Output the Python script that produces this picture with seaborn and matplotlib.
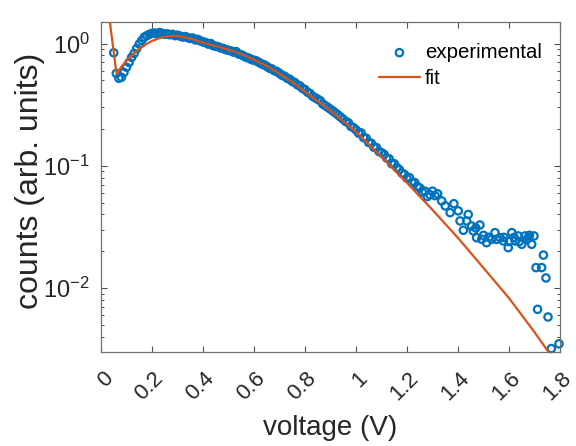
import numpy as np
import pandas as pd
import matplotlib
matplotlib.use("Agg")
import matplotlib.pyplot as plt
import matplotlib.ticker as mticker
import matplotlib.transforms as mtransforms
import seaborn as sns

# ---------------- data ----------------
voltage_exp = [
    0.05, 0.06, 0.07, 0.08, 0.09, 0.10, 0.11, 0.12, 0.13, 0.14,
    0.15, 0.16, 0.17, 0.18, 0.19, 0.20, 0.21, 0.22, 0.23, 0.24,
    0.25, 0.26, 0.27, 0.28, 0.29, 0.30, 0.31, 0.32, 0.33, 0.34,
    0.35, 0.36, 0.37, 0.38, 0.39, 0.40, 0.41, 0.42, 0.43, 0.44,
    0.45, 0.46, 0.47, 0.48, 0.49, 0.50, 0.51, 0.52, 0.53, 0.54,
    0.55, 0.56, 0.57, 0.58, 0.59, 0.60, 0.61, 0.62, 0.63, 0.64,
    0.65, 0.66, 0.67, 0.68, 0.69, 0.70, 0.71, 0.72, 0.73, 0.74,
    0.75, 0.76, 0.77, 0.78, 0.79, 0.80, 0.81, 0.82, 0.83, 0.84,
    0.85, 0.86, 0.87, 0.88, 0.89, 0.90, 0.91, 0.92, 0.93, 0.94,
    0.95, 0.96, 0.97, 0.98, 0.99, 1.00, 1.01, 1.02, 1.03, 1.04,
    1.05, 1.06, 1.07, 1.08, 1.09, 1.10, 1.11, 1.12, 1.13, 1.14,
    1.15, 1.16, 1.17, 1.18, 1.19, 1.20, 1.21, 1.22, 1.23, 1.24,
    1.25, 1.26, 1.27, 1.28, 1.29, 1.30, 1.31, 1.32, 1.336, 1.35,
    1.369, 1.384, 1.401, 1.408, 1.421, 1.434, 1.44, 1.453, 1.46, 1.47,
    1.473, 1.486, 1.493, 1.50, 1.512, 1.52, 1.532, 1.545, 1.55, 1.565,
    1.578, 1.58, 1.597, 1.60, 1.611, 1.62, 1.624, 1.636, 1.64, 1.65,
    1.663, 1.67, 1.676, 1.68, 1.689, 1.698, 1.706, 1.712, 1.728, 1.735,
    1.745, 1.753, 1.766, 1.796,
]
counts_exp = [
    0.84, 0.57, 0.52, 0.53, 0.58, 0.64, 0.70, 0.77, 0.83, 0.91,
    0.99, 1.06, 1.13, 1.16, 1.19, 1.21, 1.22, 1.20, 1.23, 1.21,
    1.19, 1.20, 1.18, 1.19, 1.16, 1.17, 1.15, 1.13, 1.14, 1.12,
    1.10, 1.11, 1.07, 1.08, 1.05, 1.03, 1.02, 0.99, 1.00, 0.96,
    0.95, 0.94, 0.92, 0.91, 0.89, 0.88, 0.87, 0.85, 0.86, 0.82,
    0.81, 0.79, 0.77, 0.76, 0.74, 0.73, 0.72, 0.70, 0.68, 0.67,
    0.65, 0.63, 0.62, 0.60, 0.59, 0.57, 0.55, 0.54, 0.52, 0.51,
    0.49, 0.48, 0.46, 0.45, 0.43, 0.42, 0.40, 0.39, 0.37, 0.36,
    0.35, 0.34, 0.32, 0.31, 0.30, 0.29, 0.28, 0.27, 0.26, 0.25,
    0.24, 0.23, 0.225, 0.21, 0.205, 0.197, 0.185, 0.186, 0.17, 0.168,
    0.155, 0.153, 0.142, 0.141, 0.131, 0.128, 0.124, 0.116, 0.114, 0.104,
    0.104, 0.097, 0.093, 0.087, 0.085, 0.079, 0.080, 0.073, 0.073, 0.068,
    0.066, 0.061, 0.062, 0.056, 0.058, 0.062, 0.057, 0.059, 0.0516, 0.047,
    0.0414, 0.049, 0.0428, 0.0354, 0.0297, 0.0354, 0.040, 0.0322, 0.0293, 0.031,
    0.0258, 0.0328, 0.0251, 0.027, 0.0235, 0.026, 0.0251, 0.0284, 0.025, 0.0258,
    0.0243, 0.026, 0.0214, 0.024, 0.0284, 0.026, 0.0243, 0.0267, 0.024, 0.0228,
    0.0267, 0.025, 0.0258, 0.027, 0.0228, 0.0267, 0.0147, 0.0067, 0.0147, 0.0186,
    0.0121, 0.0058, 0.0032, 0.0035,
]

voltage_fit = [
    0.030, 0.035, 0.040, 0.045, 0.050, 0.055, 0.061, 0.070, 0.080, 0.094,
    0.110, 0.127, 0.150, 0.175, 0.200, 0.225, 0.250, 0.275, 0.300, 0.350,
    0.400, 0.450, 0.500, 0.550, 0.600, 0.650, 0.700, 0.750, 0.800, 0.850,
    0.900, 0.950, 1.000, 1.050, 1.100, 1.150, 1.200, 1.250, 1.300, 1.350,
    1.400, 1.450, 1.500, 1.550, 1.600, 1.650, 1.700, 1.750, 1.800,
]
counts_fit = [
    2.20, 1.49, 1.23, 1.02, 0.85, 0.70, 0.565, 0.60, 0.645, 0.70,
    0.76, 0.82, 0.90, 0.98, 1.05, 1.10, 1.135, 1.15, 1.155, 1.10,
    1.019, 0.954, 0.893, 0.820, 0.739, 0.654, 0.567, 0.484, 0.404, 0.338,
    0.282, 0.2316, 0.190, 0.150, 0.1185, 0.0927, 0.0726, 0.0562, 0.0436, 0.0335,
    0.0257, 0.0194, 0.0146, 0.0110, 0.00828, 0.00601, 0.00436, 0.00310, 0.00221,
]

x_ticks = [0, 0.2, 0.4, 0.6, 0.8, 1.0, 1.2, 1.4, 1.6, 1.8]
x_tick_labels = ["0", "0.2", "0.4", "0.6", "0.8", "1", "1.2", "1.4", "1.6", "1.8"]
y_ticks = [1e-2, 1e-1, 1e0]

BLUE = "#0072BD"
ORANGE = "#D95319"
AXCOL = "#262626"

# ---------------- style ----------------
sns.set_style("white")
plt.rcParams["font.family"] = ["Liberation Sans", "DejaVu Sans"]
plt.rcParams["mathtext.fontset"] = "custom"
plt.rcParams["mathtext.rm"] = "Liberation Sans"
plt.rcParams["mathtext.it"] = "Liberation Sans:italic"
plt.rcParams["mathtext.bf"] = "Liberation Sans:bold"

fig = plt.figure(figsize=(5.76, 4.46), dpi=100)
ax = fig.add_axes([101 / 576, 1 - 352 / 446, (560 - 101) / 576, (352 - 22) / 446])

df_exp = pd.DataFrame({"voltage": voltage_exp, "counts": counts_exp})
df_fit = pd.DataFrame({"voltage": voltage_fit, "counts": counts_fit})

sns.scatterplot(data=df_exp, x="voltage", y="counts", ax=ax, marker="o", s=28,
                facecolor="none", edgecolor=BLUE, linewidth=1.6,
                label="experimental", clip_on=False, zorder=2)
sns.lineplot(data=df_fit, x="voltage", y="counts", ax=ax, color=ORANGE,
             linewidth=1.6, label="fit", zorder=3, sort=False)

ax.set_yscale("log")
ax.set_xlim(0, 1.8)
ax.set_ylim(0.003, 1.5)

ax.xaxis.set_major_locator(mticker.FixedLocator(x_ticks))
ax.xaxis.set_major_formatter(mticker.FixedFormatter(x_tick_labels))
ax.xaxis.set_minor_locator(mticker.NullLocator())
ax.yaxis.set_major_locator(mticker.FixedLocator(y_ticks))
ax.yaxis.set_major_formatter(mticker.LogFormatterMathtext())
ax.yaxis.set_minor_locator(mticker.LogLocator(base=10, subs=np.arange(2, 10), numticks=20))
ax.yaxis.set_minor_formatter(mticker.NullFormatter())

for sp in ax.spines.values():
    sp.set_visible(True)
    sp.set_color("#707070")
    sp.set_linewidth(0.9)

ax.tick_params(which="both", direction="in", bottom=True, left=True, top=True, right=True,
               color="#505050", labelcolor=AXCOL)
ax.tick_params(which="major", length=4, width=0.8)
ax.tick_params(which="minor", length=2.5, width=0.7)
ax.tick_params(axis="y", which="major", pad=8, labelsize=17)
ax.tick_params(axis="x", which="major", pad=16.5, labelsize=16)

ax.set_xlabel("voltage (V)", fontsize=20, color=AXCOL, labelpad=8)
ax.set_ylabel("counts (arb. units)", fontsize=23, color=AXCOL, va="center")
ax.yaxis.set_label_coords(-0.155, 0.52)

leg = ax.legend(loc="upper left", bbox_to_anchor=(379 / 576, 1 - 43 / 446),
                bbox_transform=fig.transFigure, frameon=False, fontsize=14.7,
                handlelength=2.0, handletextpad=0.25, borderpad=0,
                labelspacing=0.35, borderaxespad=0)
for t in leg.get_texts():
    t.set_color("black")

# rotated x tick labels anchored at their upper-right end (MATLAB style)
offset = mtransforms.ScaledTranslation(8.5 / 100, 0, fig.dpi_scale_trans)
for lab in ax.get_xticklabels():
    lab.set_rotation(45)
    lab.set_rotation_mode("anchor")
    lab.set_ha("right")
    lab.set_va("center")
    lab.set_transform(lab.get_transform() + offset)

fig.savefig("out.png", dpi=100)
